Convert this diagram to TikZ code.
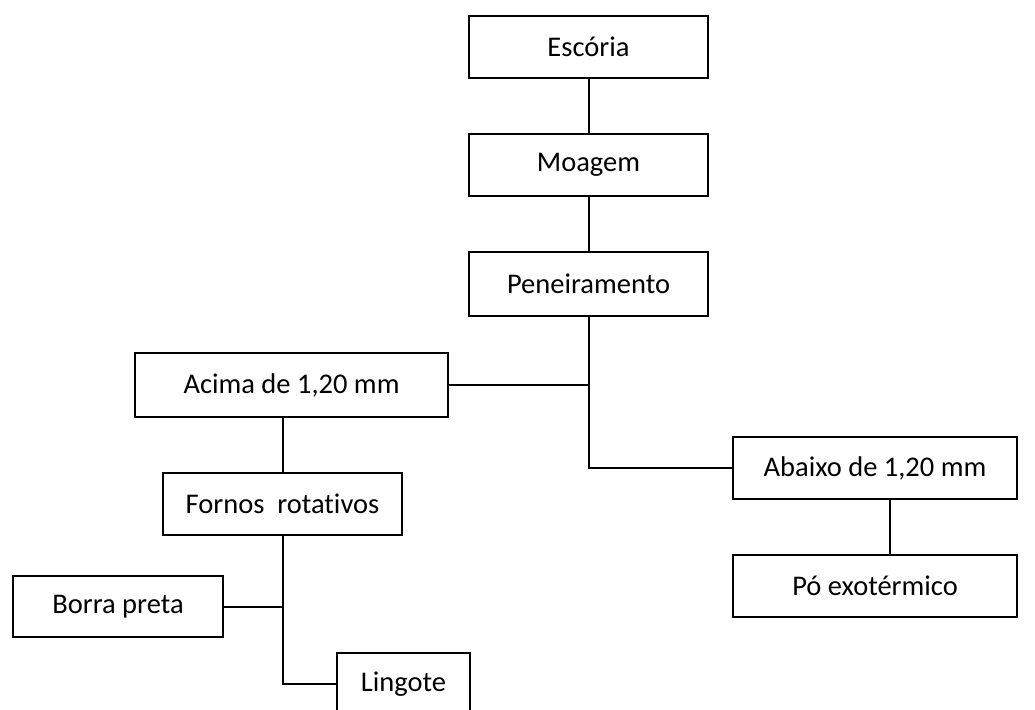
\documentclass[tikz,border=0pt]{standalone}
\usepackage{fontspec}
\setmainfont[Ligatures={NoCommon}]{Carlito}
\begin{document}
\begin{tikzpicture}[x=1pt,y=-1pt,
  box/.style={draw, line width=2pt, minimum width=#1, inner sep=0pt, font=\fontsize{28.5}{33}\selectfont},
  link/.style={line width=2pt}]
\useasboundingbox (0,0) rectangle (1035,709);
% process boxes
\node[box=239pt, minimum height=62pt] (esc) at (588.5,47) {Escória};
\node[box=239pt, minimum height=62pt] (moa) at (588.5,165) {Moagem};
\node[box=239pt, minimum height=64pt] (pen) at (588.5,284) {Peneiramento};
\node[box=313pt, minimum height=64pt] (aci) at (291.5,385) {Acima de 1,20 mm};
\node[box=284pt, minimum height=62pt] (aba) at (875,468) {Abaixo de 1,20 mm};
\node[box=239pt, minimum height=62pt] (for) at (282.5,504) {Fornos\ \ rotativos};
\node[box=284pt, minimum height=62pt] (po) at (875,586) {Pó exotérmico};
\node[box=210pt, minimum height=61pt] (bor) at (118,606.5) {Borra preta};
\node[box=133pt, minimum height=62pt] (lin) at (403.5,684) {Lingote};
% connectors
\draw[link] (esc.south) -- (moa.north);
\draw[link] (moa.south) -- (pen.north);
\draw[link] (pen.south) |- (aba.west);
\draw[link] (aci.east) -- (pen.south |- aci.east);
\draw[link] (for.north |- aci.south) -- (for.north);
\draw[link] (for.south) |- (lin.west);
\draw[link] (bor.east) -- (for.south |- bor.east);
\draw[link] ([xshift=15pt]aba.south) -- ([xshift=15pt]po.north);
\end{tikzpicture}
\end{document}
